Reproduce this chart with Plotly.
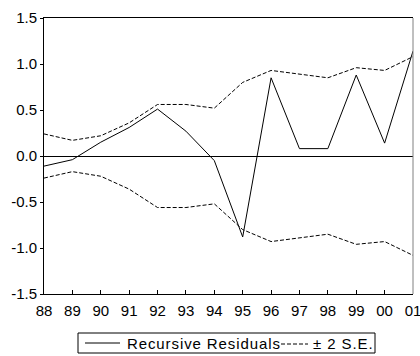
import plotly.graph_objects as go

years = ["88", "89", "90", "91", "92", "93", "94", "95", "96", "97", "98", "99", "00", "01"]
residuals = [-0.11, -0.04, 0.15, 0.31, 0.51, 0.27, -0.05, -0.88, 0.85, 0.08, 0.08, 0.88, 0.14, 1.14]
se2_upper = [0.24, 0.17, 0.22, 0.36, 0.56, 0.56, 0.52, 0.80, 0.93, 0.89, 0.85, 0.96, 0.93, 1.08]
se2_lower = [-v for v in se2_upper]
legend_labels = ["Recursive Residuals", "± 2 S.E."]

font = dict(family="Liberation Sans, Arial, sans-serif", size=15, color="black")
DASH = "4px,2px"

# layout geometry (pixels)
W, H = 420, 356
ML, MR, MT, MB = 44, 7, 18, 62
PW, PH = W - ML - MR, H - MT - MB


def px_x(p):
    return (p - ML) / PW


def px_y(p):
    return (H - MB - p) / PH


fig = go.Figure()
fig.add_trace(go.Scatter(x=years, y=residuals, mode="lines", name=legend_labels[0],
                         showlegend=False, line=dict(color="black", width=1)))
fig.add_trace(go.Scatter(x=years, y=se2_upper, mode="lines", name=legend_labels[1],
                         showlegend=False, line=dict(color="black", width=1, dash=DASH)))
fig.add_trace(go.Scatter(x=years, y=se2_lower, mode="lines", name=legend_labels[1],
                         showlegend=False, line=dict(color="black", width=1, dash=DASH)))

ly = 343
shapes = [
    dict(type="line", xref="paper", yref="paper", x0=1, x1=1, y0=0, y1=1,
         line=dict(color="#808080", width=1)),
    # legend box
    dict(type="rect", xref="paper", yref="paper", x0=px_x(78), x1=px_x(375),
         y0=px_y(353), y1=px_y(333), line=dict(color="black", width=1), fillcolor="white", layer="above"),
    dict(type="line", xref="paper", yref="paper", x0=px_x(85), x1=px_x(120),
         y0=px_y(ly), y1=px_y(ly), line=dict(color="black", width=1), layer="above"),
    dict(type="line", xref="paper", yref="paper", x0=px_x(281), x1=px_x(308),
         y0=px_y(ly + 1), y1=px_y(ly + 1), line=dict(color="black", width=1, dash=DASH), layer="above"),
]
annotations = [
    dict(xref="paper", yref="paper", x=px_x(125), y=px_y(ly), xanchor="left", yanchor="middle",
         text='<span style="letter-spacing:0.9px">' + legend_labels[0] + '</span>',
         showarrow=False, font=font),
    dict(xref="paper", yref="paper", x=px_x(311), y=px_y(ly), xanchor="left", yanchor="middle",
         text='<span style="letter-spacing:0.9px">' + legend_labels[1] + '</span>',
         showarrow=False, font=font),
]

fig.update_layout(
    width=W, height=H,
    margin=dict(l=ML, r=MR, t=MT, b=MB, autoexpand=False),
    paper_bgcolor="white", plot_bgcolor="white",
    font=font,
    showlegend=False,
    xaxis=dict(type="category", range=[0, 13], showgrid=False, showline=True,
               linecolor="black", linewidth=1, mirror=True, automargin=False,
               ticks="inside", ticklen=4, tickcolor="black", tickfont=font,
               ticklabelstandoff=3),
    yaxis=dict(range=[-1.5, 1.5], tickvals=[-1.5, -1.0, -0.5, 0.0, 0.5, 1.0, 1.5],
               ticktext=["-1.5", "-1.0", "-0.5", "0.0", "0.5", "1.0", "1.5"],
               showgrid=False, showline=True, linecolor="black", linewidth=1,
               zeroline=True, zerolinecolor="black", zerolinewidth=1, automargin=False,
               ticks="outside", ticklen=3, tickcolor="black", tickfont=font),
    shapes=shapes,
    annotations=annotations,
)

fig.write_html("out.html", config={"displayModeBar": False},
               post_script="document.body.style.margin='0';document.body.style.overflow='hidden';")
